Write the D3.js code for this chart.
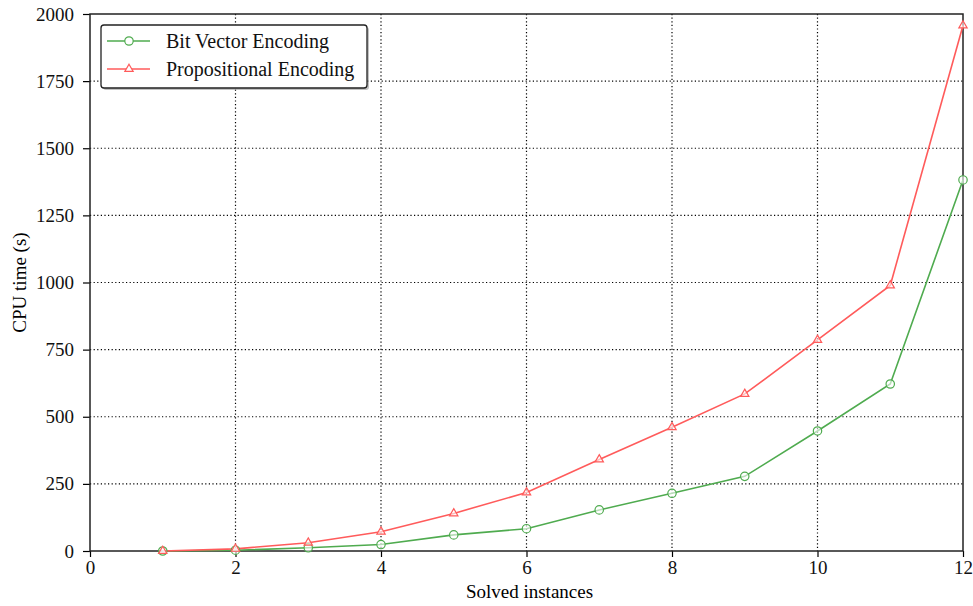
<!DOCTYPE html>
<html><head><meta charset="utf-8">
<script src="https://cdn.jsdelivr.net/npm/d3@7"></script>
<style>body{margin:0;background:#fff}</style>
</head><body><svg id="c" width="973" height="606"></svg>
<script>
const xs = [1,2,3,4,5,6,7,8,9,10,11,12];
const bitVector = [0,3,12,24,60,83,153,215,278,447,622,1382];
const propositional = [0,8,31,72,140,218,341,461,585,786,989,1957];
const xTicks = [0,2,4,6,8,10,12];
const yTicks = [0,250,500,750,1000,1250,1500,1750,2000];
const seriesNames = ["Bit Vector Encoding","Propositional Encoding"];
const colors = ["#4fab4f","#ff5b5b"];

const svg = d3.select("#c");
const m = {l:90, r:963, t:14, b:551};
const x = d3.scaleLinear().domain([0,12]).range([m.l,m.r]);
const y = d3.scaleLinear().domain([0,2000]).range([m.b,m.t]);
const font = "'Liberation Serif', 'DejaVu Serif', serif";

// grid
const g = svg.append("g");
g.selectAll(".gx").data(xTicks.slice(1,-1)).join("line")
  .attr("x1",d=>x(d)).attr("x2",d=>x(d)).attr("y1",m.t).attr("y2",m.b)
  .attr("stroke","#000").attr("stroke-width",1.2).attr("stroke-dasharray","1.2,2.4");
g.selectAll(".gy").data(yTicks.slice(1,-1)).join("line")
  .attr("y1",d=>y(d)).attr("y2",d=>y(d)).attr("x1",m.l).attr("x2",m.r)
  .attr("stroke","#000").attr("stroke-width",1.2).attr("stroke-dasharray","1.2,2.4");

// axes
const xAxis = svg.append("g").attr("transform",`translate(0,${m.b})`)
  .call(d3.axisBottom(x).tickValues(xTicks).tickSize(6).tickPadding(4).tickFormat(d3.format("d")));
const yAxis = svg.append("g").attr("transform",`translate(${m.l},0)`)
  .call(d3.axisLeft(y).tickValues(yTicks).tickSize(7).tickPadding(9).tickFormat(d3.format("d")));
[xAxis,yAxis].forEach(a=>{
  a.select(".domain").remove();
  a.selectAll("line").attr("stroke","#000").attr("stroke-width",1.2);
  a.selectAll("text").attr("font-family",font).attr("font-size",19).attr("fill","#111");
});

// frame
svg.append("rect").attr("x",m.l).attr("y",m.t).attr("width",m.r-m.l).attr("height",m.b-m.t)
  .attr("fill","none").attr("stroke","#222").attr("stroke-width",1.5);

// lines
const line = d3.line().x((d,i)=>x(xs[i])).y(d=>y(d));
const data = [bitVector, propositional];
data.forEach((vals,k)=>{
  svg.append("path").datum(vals).attr("d",line).attr("fill","none")
    .attr("stroke",colors[k]).attr("stroke-width",1.6);
});
// markers
svg.selectAll(".c").data(bitVector).join("circle")
  .attr("cx",(d,i)=>x(xs[i])).attr("cy",d=>y(d)).attr("r",4.2)
  .attr("fill","#fff").attr("fill-opacity",0.6).attr("stroke",colors[0]).attr("stroke-width",1.2);
const tri = d3.symbol().type(d3.symbolTriangle).size(30);
svg.selectAll(".t").data(propositional).join("path")
  .attr("d",tri).attr("transform",(d,i)=>`translate(${x(xs[i])},${y(d)})`)
  .attr("fill","#fff").attr("fill-opacity",0.6).attr("stroke",colors[1]).attr("stroke-width",1.2);

// labels
svg.append("text").attr("x",(m.l+m.r)/2+3).attr("y",598).attr("text-anchor","middle")
  .attr("font-family",font).attr("font-size",19).text("Solved instances");
svg.append("text").attr("transform",`translate(26,${(m.t+m.b)/2}) rotate(-90)`).attr("text-anchor","middle")
  .attr("font-family",font).attr("font-size",19).text("CPU time (s)");

// legend
const lg = svg.append("g");
lg.append("rect").attr("x",103).attr("y",27).attr("width",266).attr("height",63).attr("rx",3)
  .attr("fill","#999").attr("opacity",0.6);
lg.append("rect").attr("x",101).attr("y",25).attr("width",266).attr("height",63).attr("rx",3)
  .attr("fill","#fff").attr("stroke","#222").attr("stroke-width",1.3);
seriesNames.forEach((n,k)=>{
  const yy = 41 + k*28;
  lg.append("line").attr("x1",107).attr("x2",150).attr("y1",yy).attr("y2",yy)
    .attr("stroke",colors[k]).attr("stroke-width",1.6);
  if(k===0) lg.append("circle").attr("cx",129).attr("cy",yy).attr("r",4.2)
    .attr("fill","#fff").attr("stroke",colors[k]).attr("stroke-width",1.2);
  else lg.append("path").attr("d",tri).attr("transform",`translate(129,${yy})`)
    .attr("fill","#fff").attr("stroke",colors[k]).attr("stroke-width",1.2);
  lg.append("text").attr("x",166).attr("y",yy+6.5).attr("font-family",font).attr("font-size",20)
    .attr("fill","#111").text(n);
});
</script></body></html>
